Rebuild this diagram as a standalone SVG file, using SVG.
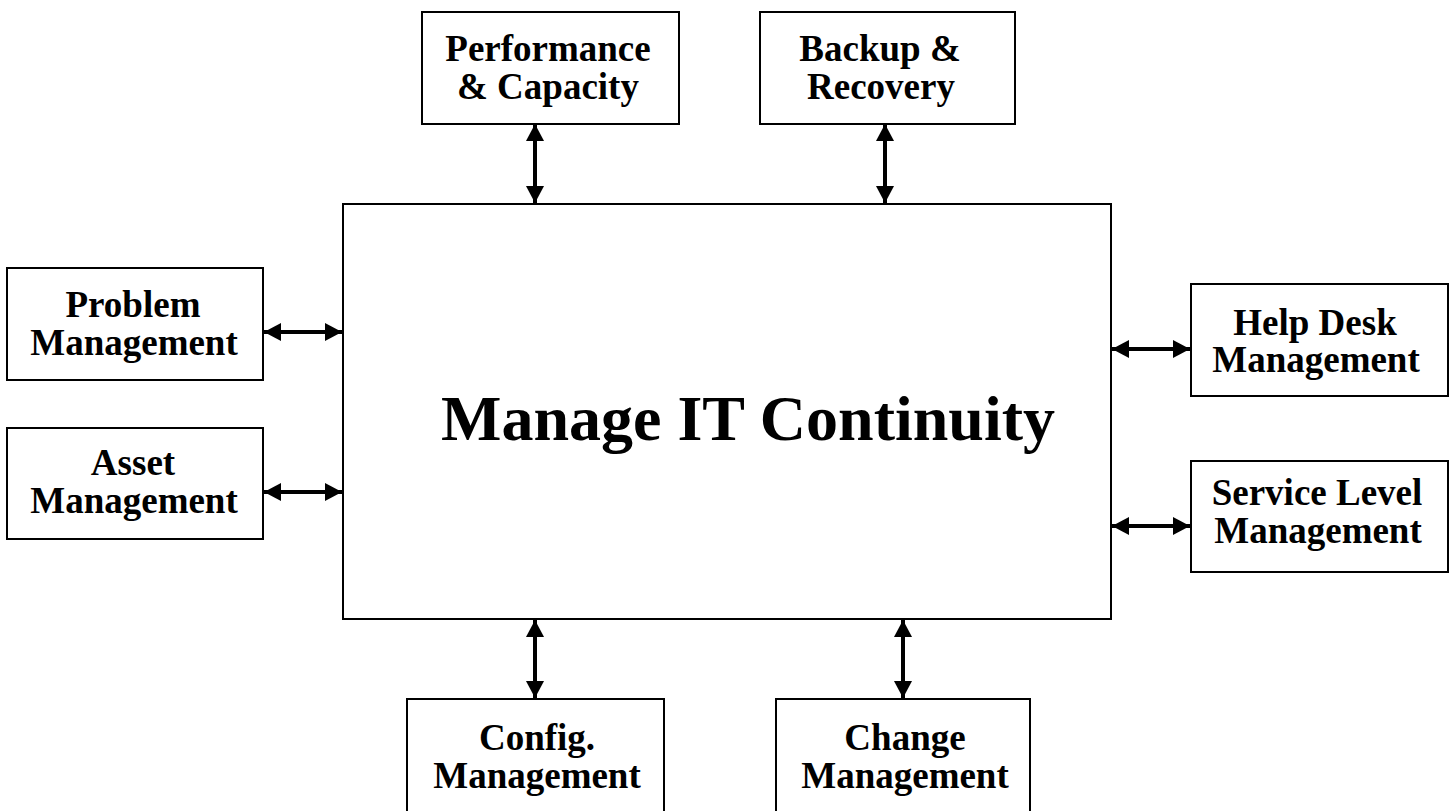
<svg xmlns="http://www.w3.org/2000/svg" width="1453" height="811" viewBox="0 0 1453 811">
<style>
.box{fill:#fff;stroke:#000;stroke-width:2}
.t{font-family:"Liberation Serif","Times New Roman",serif;font-weight:bold;font-size:37px;text-anchor:middle;fill:#000}
.title{font-family:"Liberation Serif","Times New Roman",serif;font-weight:bold;font-size:64px;text-anchor:middle;fill:#000}
.c{stroke:#000;stroke-width:4;fill:none;marker-start:url(#ah);marker-end:url(#ah)}
</style>
<defs>
<marker id="ah" markerUnits="userSpaceOnUse" markerWidth="18" markerHeight="18" refX="17" refY="9" orient="auto-start-reverse" viewBox="0 0 18 18">
<path d="M0,0 L17,9 L0,18 Z" fill="#000"/>
</marker>
</defs>
<rect width="1453" height="811" fill="#fff"/>
<g id="main">
<rect class="box" x="343" y="204" width="768" height="415"/>
<text class="title" x="748" y="440">Manage IT Continuity</text>
</g>
<g id="performance">
<rect class="box" x="422" y="12" width="257" height="112"/>
<text class="t" x="548" y="61">Performance</text>
<text class="t" x="548" y="99">&amp; Capacity</text>
</g>
<g id="backup">
<rect class="box" x="760" y="12" width="255" height="112"/>
<text class="t" x="880" y="61">Backup &amp;</text>
<text class="t" x="881" y="99">Recovery</text>
</g>
<g id="problem">
<rect class="box" x="7" y="268" width="256" height="112"/>
<text class="t" x="133" y="317">Problem</text>
<text class="t" x="134" y="355">Management</text>
</g>
<g id="asset">
<rect class="box" x="7" y="428" width="256" height="111"/>
<text class="t" x="133" y="475">Asset</text>
<text class="t" x="134" y="513">Management</text>
</g>
<g id="helpdesk">
<rect class="box" x="1191" y="284" width="257" height="112"/>
<text class="t" x="1315" y="335">Help Desk</text>
<text class="t" x="1316" y="372">Management</text>
</g>
<g id="servicelevel">
<rect class="box" x="1191" y="461" width="257" height="111"/>
<text class="t" x="1317" y="505">Service Level</text>
<text class="t" x="1318" y="543">Management</text>
</g>
<g id="config">
<rect class="box" x="407" y="699" width="257" height="120"/>
<text class="t" x="537" y="750">Config.</text>
<text class="t" x="537" y="788">Management</text>
</g>
<g id="change">
<rect class="box" x="776" y="699" width="254" height="120"/>
<text class="t" x="905" y="750">Change</text>
<text class="t" x="905" y="788">Management</text>
</g>
<g id="connectors">
<line class="c" x1="535" y1="124" x2="535" y2="203"/>
<line class="c" x1="885" y1="124" x2="885" y2="203"/>
<line class="c" x1="535" y1="620" x2="535" y2="698"/>
<line class="c" x1="903" y1="620" x2="903" y2="698"/>
<line class="c" x1="264" y1="332" x2="342" y2="332"/>
<line class="c" x1="264" y1="492" x2="342" y2="492"/>
<line class="c" x1="1112" y1="349" x2="1190" y2="349"/>
<line class="c" x1="1112" y1="526" x2="1190" y2="526"/>
</g>
</svg>
